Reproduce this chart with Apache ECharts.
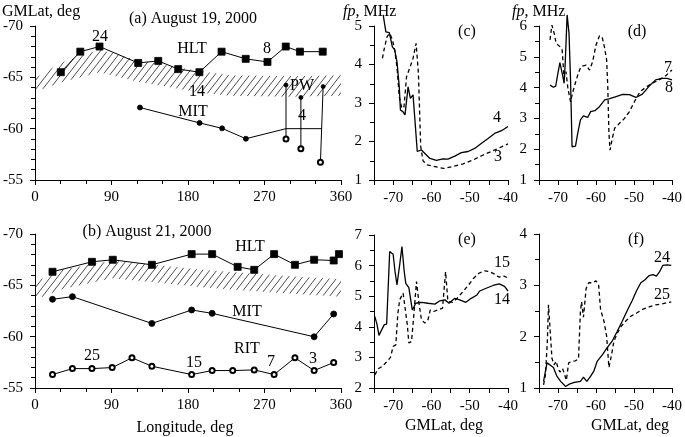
<!DOCTYPE html>
<html><head><meta charset="utf-8">
<script src="https://cdn.jsdelivr.net/npm/echarts@6/dist/echarts.min.js"></script>
<style>html,body{margin:0;padding:0;background:#fff}#c{width:685px;height:437px}</style>
</head><body><div id="c"></div>
<script>
const FONT = 'Liberation Serif';

// ---------- Panel (a): August 19, 2000 ----------
const hltA = [[30.4,-65.5],[53.3,-67.5],[75.9,-68.0],[121.4,-66.4],[145,-66.6],[168.5,-65.8],[193.4,-65.5],[219.5,-67.5],[247.9,-66.8],[273.5,-66.5],[295,-68.0],[311.7,-67.5],[338.5,-67.5]];
const mitA = [[123.5,-62.06],[193.6,-60.56],[220.1,-60.03],[248.1,-59.02]];
const mitALink = [[295.3,-60.0],[337.5,-60.0]];
const pwTopA = [[295.3,-64.25],[312.8,-63.04],[339,-64.1]];
const pwBotA = [[295.3,-59.0],[312.8,-58.04],[335.8,-56.73]];
const bandLonA = [0, 30, 76, 120, 195, 230, 300, 360];
const bandTopA = [-64.9, -66.4, -67.7, -66.7, -65.6, -65.2, -65.1, -65.2];
const bandBotA = [-63.6, -64.5, -65.5, -64.6, -63.5, -63.2, -63.1, -63.2];

// ---------- Panel (b): August 21, 2000 ----------
const hltB = [[20.6,-66.32],[67.0,-67.29],[91.5,-67.49],[137.5,-67.0],[184.3,-68.04],[208.4,-68.04],[238.4,-66.8],[257.9,-66.51],[281.3,-68.04],[305.8,-67.0],[328.4,-67.49],[351.4,-67.42],[357.6,-68.04]];
const mitB = [[20.6,-63.64],[44.0,-63.9],[137.5,-61.29],[184.3,-62.6],[208.4,-62.27],[328.4,-59.99],[351.4,-62.21]];
const ritB = [[20.6,-56.31],[44.0,-56.89],[67.0,-56.89],[90.8,-56.99],[114.1,-57.94],[137.5,-57.12],[184.3,-56.31],[208.4,-56.7],[232.6,-56.7],[257.9,-56.76],[281.3,-56.31],[305.8,-57.94],[328.4,-56.7],[351.4,-57.48]];
const bandLonB = [0, 30, 90, 140, 200, 280, 360];
const bandTopB = [-65.3, -66.5, -67.4, -67.0, -66.5, -66.0, -65.6];
const bandBotB = [-63.6, -64.6, -65.7, -65.3, -64.8, -64.3, -63.9];

// ---------- Panel (c) ----------
const c4 = [[-72.6,5.29],[-71.9,4.85],[-71.0,4.83],[-70.2,4.46],[-69.6,4.38],[-69.0,4.07],[-68.4,3.42],[-68.1,2.82],[-67.4,2.77],[-66.9,2.69],[-66.1,3.42],[-65.5,3.12],[-64.8,3.21],[-64.3,3.16],[-63.7,1.74],[-62.6,1.78],[-61.7,1.69],[-60.4,1.56],[-58.7,1.51],[-57.0,1.55],[-55.7,1.54],[-53.9,1.62],[-52.2,1.71],[-50.4,1.74],[-48.7,1.82],[-47.0,1.95],[-45.2,2.08],[-43.5,2.21],[-41.7,2.28],[-40.0,2.39]];
const c3 = [[-72.8,4.16],[-72.3,4.42],[-71.6,4.72],[-70.9,4.81],[-70.2,4.65],[-69.6,4.38],[-69.0,3.94],[-68.4,3.16],[-67.8,2.9],[-67.2,2.86],[-66.5,3.68],[-65.7,3.9],[-64.8,4.16],[-64.0,4.55],[-63.4,3.77],[-62.8,1.87],[-62.2,1.5],[-61.1,1.39],[-59.1,1.35],[-56.8,1.3],[-54.3,1.35],[-51.7,1.42],[-49.1,1.52],[-46.5,1.65],[-43.9,1.76],[-41.3,1.88],[-40.0,1.94]];

// ---------- Panel (d) ----------
const d8 = [[-72.1,4.08],[-71.2,4.01],[-70.6,4.05],[-70.1,4.41],[-69.5,4.81],[-69.1,4.87],[-68.7,4.35],[-68.4,4.14],[-68.1,4.79],[-67.6,6.36],[-67.1,5.76],[-66.7,4.25],[-66.3,2.08],[-65.4,2.1],[-64.8,2.52],[-64.1,2.95],[-63.3,3.08],[-62.2,3.03],[-61.4,3.22],[-60.3,3.25],[-59.1,3.38],[-57.7,3.6],[-56.4,3.64],[-54.7,3.71],[-53.0,3.78],[-51.2,3.77],[-49.5,3.68],[-47.8,3.79],[-46.0,4.05],[-44.3,4.25],[-42.6,4.3],[-41.3,4.3],[-40.0,4.25]];
const d7 = [[-72.1,5.55],[-71.6,6.03],[-71.0,5.76],[-70.5,5.44],[-69.5,5.33],[-68.9,5.22],[-68.4,4.3],[-67.9,4.52],[-67.4,3.98],[-66.7,3.54],[-66.2,3.81],[-65.6,4.08],[-64.8,4.41],[-64.0,4.68],[-62.6,4.73],[-61.7,4.57],[-60.9,4.84],[-60.0,5.38],[-59.1,5.68],[-58.4,5.65],[-57.8,5.33],[-57.2,4.9],[-56.9,4.03],[-56.6,2.52],[-56.3,1.97],[-55.8,2.3],[-55.1,2.68],[-53.8,2.84],[-52.5,3.0],[-51.2,3.22],[-49.9,3.54],[-48.4,3.87],[-46.9,4.01],[-45.2,4.14],[-43.4,4.25],[-41.7,4.38],[-40.0,4.57]];

// ---------- Panel (e) ----------
const e14 = [[-74.8,4.34],[-74.2,4.07],[-73.7,3.72],[-73.0,3.9],[-72.3,4.07],[-71.7,4.09],[-70.9,6.46],[-70.0,6.37],[-69.5,5.8],[-69.0,5.37],[-68.3,6.02],[-67.7,6.62],[-67.1,5.8],[-66.7,5.42],[-65.9,5.28],[-65.0,4.55],[-64.1,4.77],[-62.6,4.8],[-60.9,4.77],[-59.1,4.74],[-57.8,4.85],[-56.5,4.88],[-55.4,4.77],[-53.9,4.93],[-52.6,4.88],[-51.0,4.8],[-49.6,4.93],[-48.1,5.04],[-47.4,5.17],[-45.7,5.26],[-43.9,5.35],[-42.3,5.4],[-40.9,5.32],[-40.0,5.17]];
const e15 = [[-74.8,2.43],[-73.9,2.63],[-72.8,2.71],[-71.6,2.87],[-70.7,3.0],[-70.0,3.36],[-69.3,3.41],[-68.8,4.39],[-68.3,4.88],[-67.4,5.1],[-66.9,5.15],[-66.3,4.07],[-65.9,3.47],[-65.2,3.52],[-64.6,4.39],[-63.9,5.48],[-63.2,4.72],[-62.6,4.23],[-61.7,4.12],[-60.9,4.23],[-60.3,4.55],[-59.4,4.5],[-58.3,4.55],[-57.1,4.61],[-56.3,5.8],[-55.7,4.83],[-54.5,4.8],[-53.3,4.93],[-51.9,5.13],[-50.4,5.35],[-49.1,5.57],[-47.6,5.75],[-46.1,5.83],[-44.8,5.8],[-43.5,5.72],[-42.3,5.62],[-41.3,5.67],[-40.4,5.62],[-40.0,5.53]];

// ---------- Panel (f) ----------
const f24 = [[-73.8,1.13],[-72.9,1.49],[-72.1,1.45],[-71.2,1.4],[-70.3,1.23],[-69.3,1.13],[-68.0,1.03],[-66.9,1.08],[-65.7,1.11],[-64.1,1.13],[-63.3,1.21],[-62.4,1.13],[-61.4,1.23],[-60.5,1.34],[-59.7,1.52],[-58.3,1.65],[-57.1,1.78],[-55.7,1.92],[-54.5,2.09],[-53.1,2.3],[-51.9,2.49],[-50.5,2.7],[-49.3,2.9],[-48.2,3.05],[-47.1,3.11],[-46.0,3.19],[-45.0,3.21],[-44.1,3.18],[-43.3,3.26],[-42.4,3.39],[-41.3,3.4],[-40.2,3.39]];
const f25 = [[-73.8,1.06],[-73.3,1.26],[-72.8,1.91],[-72.5,2.62],[-72.1,2.17],[-71.6,1.58],[-71.0,1.45],[-70.5,1.52],[-70.0,1.39],[-69.5,1.31],[-68.8,1.38],[-68.3,1.27],[-67.8,1.15],[-67.2,1.49],[-66.3,1.52],[-65.4,1.53],[-64.6,1.57],[-64.1,2.49],[-63.8,2.68],[-63.3,2.38],[-62.6,2.94],[-61.9,3.05],[-60.9,3.05],[-60.0,3.09],[-59.3,3.0],[-58.8,2.53],[-57.9,2.3],[-57.2,2.01],[-56.6,1.4],[-55.9,1.65],[-55.3,1.91],[-54.5,2.05],[-53.4,2.2],[-52.1,2.31],[-50.8,2.4],[-49.3,2.46],[-47.8,2.53],[-46.0,2.58],[-44.3,2.62],[-42.6,2.64],[-41.3,2.66],[-40.2,2.68]];

// ---------- Text annotations ----------
const texts = [
  ['GMLat, deg', 2, 12, 'left'],
  ['(a) August 19, 2000', 193, 19],
  ['24', 100, 37], ['HLT', 192, 49], ['8', 267, 49], ['14', 197, 92], ['PW', 302, 86], ['MIT', 193, 112], ['4', 302, 116],
  ['(b) August 21, 2000', 147, 232],
  ['HLT', 250, 247], ['MIT', 247, 312], ['RIT', 247, 349], ['25', 92, 356], ['15', 194, 363], ['7', 271, 362], ['3', 313, 359],
  ['Longitude, deg', 185, 428],
  ['(c)', 467, 32], ['4', 497, 118], ['3', 498, 157],
  ['(d)', 637, 32], ['7', 668, 68], ['8', 669, 88],
  ['(e)', 467, 240], ['15', 502, 263], ['14', 502, 300], ['GMLat, deg', 444, 426],
  ['(f)', 636, 240], ['24', 662, 258], ['25', 662, 295], ['GMLat, deg', 630, 426]
];
const fpLabels = [[343, 12], [512, 12]];

function hatchCanvas() {
  const c = document.createElement('canvas');
  c.width = 7; c.height = 9;
  const g = c.getContext('2d');
  g.strokeStyle = '#111'; g.lineWidth = 0.75;
  g.beginPath();
  g.moveTo(-7, 9); g.lineTo(0, 0);
  g.moveTo(0, 9); g.lineTo(7, 0);
  g.moveTo(7, 9); g.lineTo(14, 0);
  g.stroke();
  return c;
}
const hatch = hatchCanvas();

const chart = echarts.init(document.getElementById('c'), null, {renderer: 'canvas'});

const grids = [
  {left: 33, top: 26, width: 308, height: 154},
  {left: 33, top: 234, width: 308, height: 154},
  {left: 374, top: 26, width: 134, height: 154},
  {left: 539, top: 26, width: 134, height: 154},
  {left: 374, top: 235, width: 134, height: 153},
  {left: 539, top: 234, width: 134, height: 154}
];

const lineAx = {lineStyle: {color: '#000', width: 1}};
const lbl = (m) => ({color: '#000', fontFamily: FONT, fontSize: 15, margin: m});
const tick = {length: 5, lineStyle: {color: '#000', width: 1}};

function lonAxis(i) {
  return {type: 'value', gridIndex: i, min: 0, max: 360, interval: 90,
    axisLine: lineAx, axisTick: tick, minorTick: {show: true, splitNumber: 3, length: 4, lineStyle: {color: '#000'}},
    splitLine: {show: false}, axisLabel: lbl(10)};
}
function latAxisY(i) {
  return {type: 'value', gridIndex: i, min: -70, max: -55, interval: 5, inverse: true,
    axisLine: lineAx, axisTick: tick, minorTick: {show: true, splitNumber: 5, length: 4, lineStyle: {color: '#000'}},
    splitLine: {show: false}, axisLabel: lbl(12)};
}
function gmlatAxis(i) {
  return {type: 'value', gridIndex: i, min: -75, max: -40, interval: 5,
    axisLine: lineAx, axisTick: tick, splitLine: {show: false},
    axisLabel: Object.assign(lbl(11), {formatter: v => (v % 10 === 0 ? String(v) : '')})};
}
function fpAxis(i, mn, mx) {
  return {type: 'value', gridIndex: i, min: mn, max: mx, interval: 1,
    axisLine: lineAx, axisTick: tick, minorTick: {show: true, splitNumber: 2, length: 4, lineStyle: {color: '#000'}},
    splitLine: {show: false}, axisLabel: lbl(12)};
}

function bandSeries(gi, lon, top, bot) {
  return {
    type: 'custom', xAxisIndex: gi, yAxisIndex: gi, silent: true, z: 1,
    data: [[lon[0], top[0]]],
    renderItem: (params, api) => {
      const pts = [];
      for (let i = 0; i < lon.length; i++) pts.push(api.coord([lon[i], top[i]]));
      for (let i = lon.length - 1; i >= 0; i--) pts.push(api.coord([lon[i], bot[i]]));
      return {type: 'polygon', shape: {points: pts}, style: {fill: {image: hatch, repeat: 'repeat'}, stroke: null}};
    }
  };
}

const blackItem = {color: '#000', borderColor: '#000', borderWidth: 0.8};
function ptLine(gi, data, symbol, size, extra) {
  return Object.assign({
    type: 'line', xAxisIndex: gi, yAxisIndex: gi, data: data, symbol: symbol, symbolSize: size,
    showAllSymbol: true, animation: false, z: 3,
    lineStyle: {color: '#000', width: 1}, itemStyle: blackItem
  }, extra || {});
}
function curve(gi, data, dashed) {
  return {type: 'line', xAxisIndex: gi, yAxisIndex: gi, data: data, symbol: 'none', clip: false,
    animation: false, lineStyle: {color: '#000', width: 1.3, type: dashed ? [4, 3] : 'solid'}};
}

const series = [
  bandSeries(0, bandLonA, bandTopA, bandBotA),
  bandSeries(1, bandLonB, bandTopB, bandBotB),
  ptLine(0, hltA, 'rect', 7),
  ptLine(0, mitA.concat(mitALink), (v, p) => (p.dataIndex < mitA.length ? 'circle' : 'none'), 5),
  ptLine(1, hltB, 'rect', 7),
  ptLine(1, mitB, 'circle', 6),
  ptLine(1, ritB, 'emptyCircle', 5),
  curve(2, c4, false), curve(2, c3, true),
  curve(3, d8, false), curve(3, d7, true),
  curve(4, e14, false), curve(4, e15, true),
  curve(5, f24, false), curve(5, f25, true)
];
pwTopA.forEach((t, i) => {
  series.push(ptLine(0, [
    {value: t, symbol: 'circle', symbolSize: 4},
    {value: pwBotA[i], symbol: 'emptyCircle', symbolSize: 5}
  ], 'circle', 4));
});

const graphics = texts.map(t => ({
  type: 'text', x: t[1], y: t[2], z: 10,
  style: {text: t[0], fill: '#000', font: '16px "Liberation Serif"', textAlign: t[3] || 'center', textVerticalAlign: 'middle'}
}));
fpLabels.forEach(p => graphics.push({
  type: 'text', x: p[0], y: p[1], z: 10,
  style: {rich: {i: {fontStyle: 'italic', fontFamily: FONT, fontSize: 16, fill: '#000'}, n: {fontFamily: FONT, fontSize: 16, fill: '#000'}},
    text: '{i|fp}{n|, MHz}', textAlign: 'left', textVerticalAlign: 'middle'}
}));

chart.setOption({
  animation: false,
  backgroundColor: '#fff',
  grid: grids,
  xAxis: [lonAxis(0), lonAxis(1), gmlatAxis(2), gmlatAxis(3), gmlatAxis(4), gmlatAxis(5)],
  yAxis: [latAxisY(0), latAxisY(1), fpAxis(2, 1, 5), fpAxis(3, 1, 6), fpAxis(4, 2, 7), fpAxis(5, 1, 4)],
  series: series,
  graphic: graphics
});
</script>
</body></html>
